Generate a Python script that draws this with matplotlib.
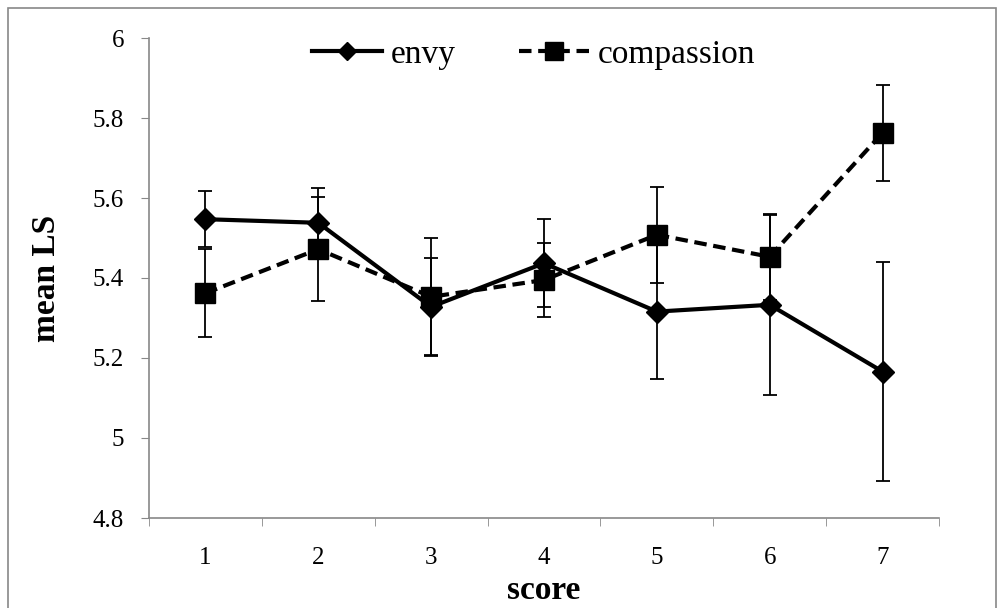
import matplotlib
matplotlib.use("Agg")
import matplotlib.pyplot as plt
from matplotlib.patches import Rectangle
from matplotlib.lines import Line2D

scores = [1, 2, 3, 4, 5, 6, 7]
envy = [5.547, 5.538, 5.328, 5.437, 5.316, 5.333, 5.166]
envy_err = [0.070, 0.088, 0.123, 0.110, 0.168, 0.225, 0.274]
compassion = [5.362, 5.472, 5.353, 5.395, 5.508, 5.453, 5.763]
compassion_err = [0.110, 0.130, 0.146, 0.092, 0.120, 0.107, 0.120]
yticks = [4.8, 5.0, 5.2, 5.4, 5.6, 5.8, 6.0]
ytick_labels = ["4.8", "5", "5.2", "5.4", "5.6", "5.8", "6"]

plt.rcParams['font.family'] = ['Liberation Serif', 'DejaVu Serif']

fig = plt.figure(figsize=(10.02, 6.08), dpi=100)
ax = fig.add_axes([149/1002, 1-518/608, (939-149)/1002, (518-38)/608])

fig.patches.append(Rectangle((8/1002, -0.01), (996-8)/1002, 1-8/608+0.01,
                             transform=fig.transFigure, fill=False,
                             edgecolor='#888888', linewidth=1.2))

dash = (0, (3, 1.6))
ax.errorbar(scores, envy, yerr=envy_err, color='black', linestyle='-',
            linewidth=3, marker='D', markersize=11, ecolor='black',
            elinewidth=1.3, capsize=4.8, capthick=1.3, zorder=3)
ax.errorbar(scores, compassion, yerr=compassion_err, color='black',
            linestyle=dash, linewidth=3, marker='s', markersize=15,
            ecolor='black', elinewidth=1.3, capsize=4.8, capthick=1.3,
            zorder=3)

ax.set_xlim(0.5, 7.5)
ax.set_ylim(4.8, 6.0)
ax.set_yticks(yticks)
ax.set_yticklabels(ytick_labels, fontsize=18)
ax.set_xticks(scores)
ax.set_xticklabels([str(s) for s in scores], fontsize=18)
ax.set_xticks([s - 0.5 for s in scores] + [7.5], minor=True)
ax.tick_params(axis='x', which='major', length=0, pad=21)
ax.tick_params(axis='x', which='minor', length=6, color='#888888', direction='out')
ax.tick_params(axis='y', length=6, color='#888888', direction='out', pad=12)

for s in ['top', 'right']:
    ax.spines[s].set_visible(False)
for s in ['left', 'bottom']:
    ax.spines[s].set_color('#888888')
    ax.spines[s].set_linewidth(1.2)

ax.set_xlabel('score', fontsize=24, fontweight='bold', labelpad=4)
ax.set_ylabel('mean LS', fontsize=24, fontweight='bold', labelpad=22)

handles = [
    Line2D([], [], color='black', linestyle='-', linewidth=3, marker='D', markersize=9),
    Line2D([], [], color='black', linestyle=dash, linewidth=3, marker='s', markersize=13),
]
ax.legend(handles, ['envy', 'compassion'], loc='upper center',
          bbox_to_anchor=(0.487, 1.06), ncol=2, frameon=False, fontsize=24,
          handlelength=2.1, columnspacing=1.9, handletextpad=0.25)

fig.savefig('out.png', dpi=100)
